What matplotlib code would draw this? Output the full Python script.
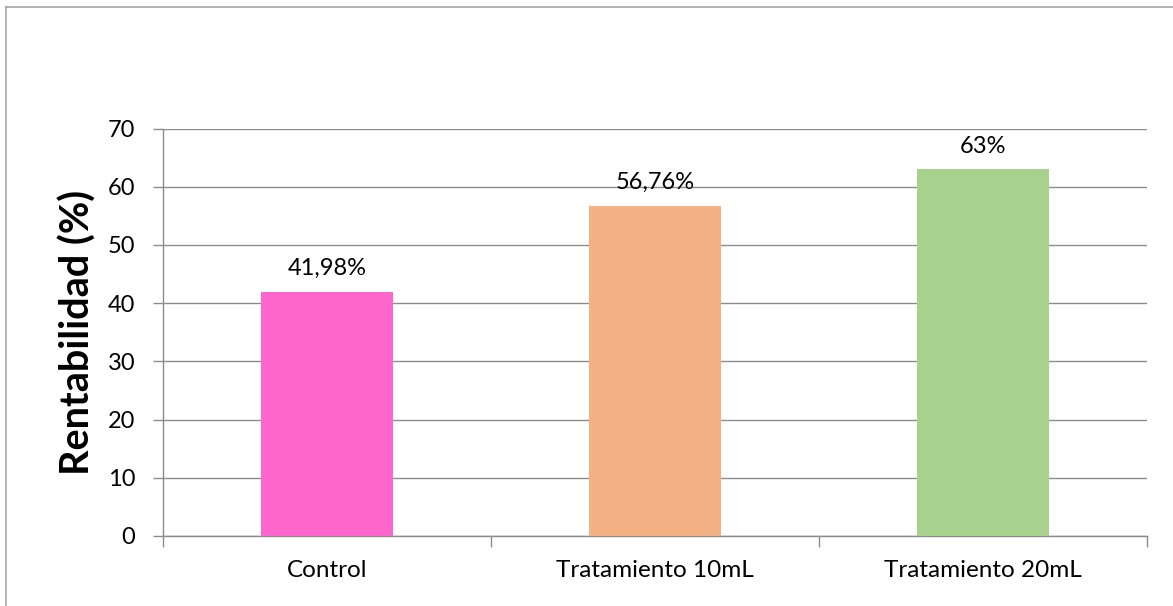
import matplotlib
matplotlib.use("Agg")
import matplotlib.pyplot as plt
from matplotlib.lines import Line2D

categories = ["Control", "Tratamiento 10mL", "Tratamiento 20mL"]
values = [41.98, 56.76, 63.0]
value_labels = ["41,98%", "56,76%", "63%"]
bar_colors = ["#FF66CC", "#F4B183", "#A9D18E"]
y_ticks = [0, 10, 20, 30, 40, 50, 60, 70]

plt.rcParams["font.family"] = ["Lato", "DejaVu Sans"]

W, H = 1173, 606
fig = plt.figure(figsize=(W / 100, H / 100), dpi=100)
ax = fig.add_axes([163 / W, 1 - 536 / H, (1147 - 163) / W, (536 - 128.5) / H])

grid_color = "#8C8C8C"
x = list(range(len(categories)))
ax.bar(x, values, width=0.4, color=bar_colors, zorder=3)

for xi, v, lab in zip(x, values, value_labels):
    ax.annotate(lab, (xi, v), xytext=(0, 9), textcoords="offset points",
                ha="center", va="bottom", fontsize=17, color="#000000")

ax.set_xlim(-0.5, len(categories) - 0.5)
ax.set_ylim(0, 70)
ax.set_yticks(y_ticks)
ax.set_yticklabels([str(t) for t in y_ticks], fontsize=17)
ax.yaxis.grid(True, color=grid_color, linewidth=1.0, zorder=0)
ax.set_axisbelow(True)

# category ticks sit at the boundaries between groups
ax.set_xticks([i - 0.5 for i in range(len(categories) + 1)])
ax.set_xticklabels([])
ax.set_xticks(x, minor=True)
ax.set_xticklabels(categories, minor=True, fontsize=17.5)
ax.tick_params(axis="x", which="major", length=8, width=1, color=grid_color, direction="out")
ax.tick_params(axis="x", which="minor", length=0, pad=17)
ax.tick_params(axis="y", length=7, width=1, color=grid_color, pad=13)

for s in ["top", "right"]:
    ax.spines[s].set_visible(False)
for s in ["left", "bottom"]:
    ax.spines[s].set_color(grid_color)
    ax.spines[s].set_linewidth(1.0)

ax.set_ylabel("Rentabilidad (%)", fontsize=28.5, fontweight="bold", labelpad=8)

# outer chart frame
fig.add_artist(Line2D([5.5 / W, 5.5 / W], [0, 1 - 7 / H], transform=fig.transFigure,
                      color="#A6A6A6", linewidth=1.2))
fig.add_artist(Line2D([5.5 / W, 1], [1 - 7 / H, 1 - 7 / H], transform=fig.transFigure,
                      color="#A6A6A6", linewidth=1.2))

fig.savefig("out.png", dpi=100, facecolor="white")
